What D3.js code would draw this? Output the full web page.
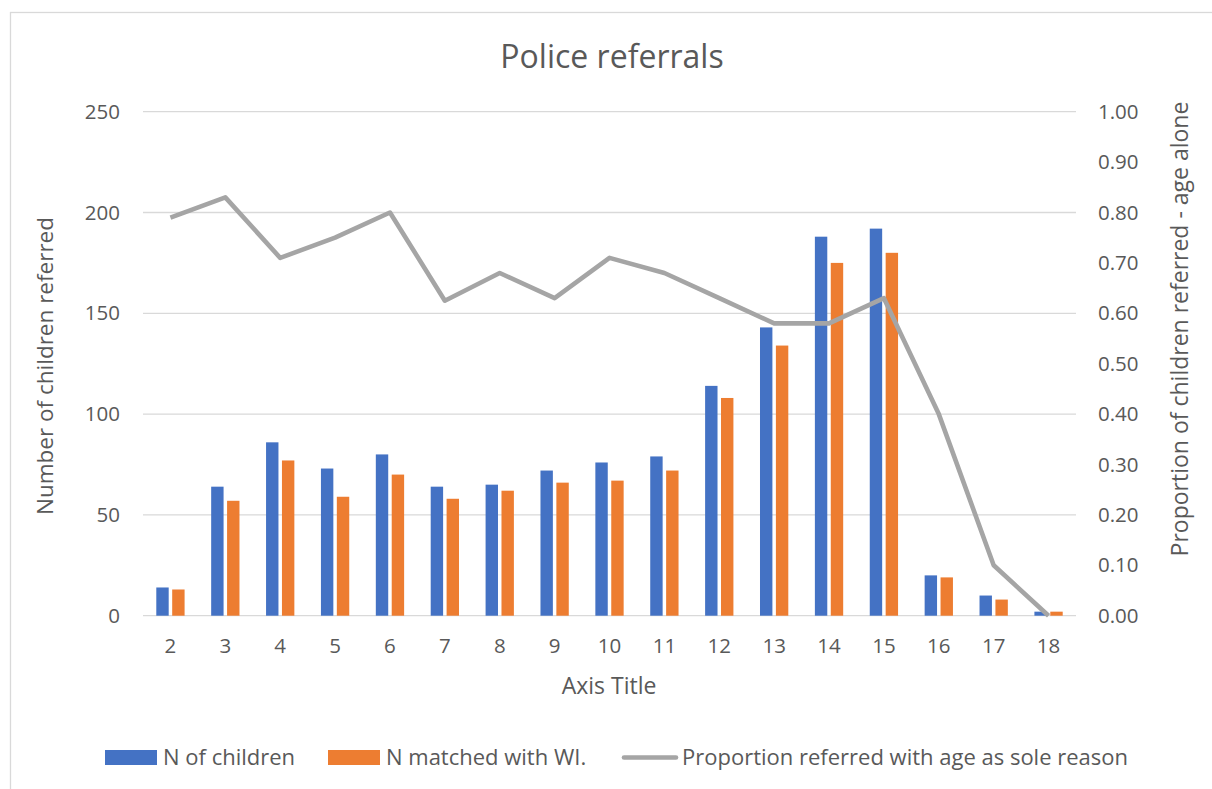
<!DOCTYPE html>
<html>
<head>
<meta charset="utf-8">
<script src="https://cdn.jsdelivr.net/npm/d3@7"></script>
<style>
  body { margin: 0; background: #fff; }
  text { font-family: "Open Sans", sans-serif; fill: #595959; }
</style>
</head>
<body>
<div id="chart"></div>
<script>
// data
const ages = ['2', '3', '4', '5', '6', '7', '8', '9', '10', '11', '12', '13', '14', '15', '16', '17', '18'];
const nChildren = [14, 64, 86, 73, 80, 64, 65, 72, 76, 79, 114, 143, 188, 192, 20, 10, 2];
const nMatched = [13, 57, 77, 59, 70, 58, 62, 66, 67, 72, 108, 134, 175, 180, 19, 8, 2];
const propAgeAlone = [0.79, 0.83, 0.71, 0.75, 0.80, 0.625, 0.68, 0.63, 0.71, 0.68, 0.63, 0.58, 0.58, 0.63, 0.40, 0.10, 0.00];
const leftTicks = [0, 50, 100, 150, 200, 250];
const rightTicks = [0, 0.1, 0.2, 0.3, 0.4, 0.5, 0.6, 0.7, 0.8, 0.9, 1.0];

const width = 1212, height = 789;
const plot = { left: 143, right: 1076, top: 111.7, bottom: 615.7 };
const colors = { n: '#4472C4', m: '#ED7D31', line: '#A5A5A5', grid: '#D9D9D9' };
const tickFont = 20.5, labelFont = 22.5;

const svg = d3.select('#chart').append('svg').attr('width', width).attr('height', height);

// chart border
svg.append('rect')
  .attr('x', 10.5).attr('y', 12.5)
  .attr('width', 1220).attr('height', 800)
  .attr('fill', 'none').attr('stroke', colors.grid).attr('stroke-width', 1.3);

// scales
const x = d3.scaleBand().domain(ages).range([plot.left, plot.right]);
const xInner = d3.scaleBand().domain(['n', 'm']).range([-14.15, 14.15]).paddingInner(0.22);
const yLeft = d3.scaleLinear().domain([0, 250]).range([plot.bottom, plot.top]);
const yRight = d3.scaleLinear().domain([0, 1]).range([plot.bottom, plot.top]);

// gridlines
svg.append('g')
  .selectAll('line').data(leftTicks).join('line')
  .attr('x1', plot.left).attr('x2', plot.right)
  .attr('y1', d => yLeft(d)).attr('y2', d => yLeft(d))
  .attr('stroke', colors.grid).attr('stroke-width', 1.3);

const styleTicks = g => {
  g.select('.domain').remove();
  g.selectAll('text')
    .attr('font-size', tickFont)
    .attr('fill', '#595959')
    .attr('font-family', '"Open Sans", sans-serif');
};

// left axis
svg.append('g')
  .attr('transform', `translate(${plot.left - 23},0)`)
  .call(d3.axisLeft(yLeft).tickValues(leftTicks).tickSize(0).tickPadding(0))
  .call(styleTicks);

// right axis
svg.append('g')
  .attr('transform', `translate(${plot.right + 22},0)`)
  .call(d3.axisRight(yRight).tickValues(rightTicks).tickFormat(d3.format('.2f')).tickSize(0).tickPadding(0))
  .call(styleTicks);

// bottom axis
svg.append('g')
  .attr('transform', `translate(0,${plot.bottom})`)
  .call(d3.axisBottom(x).tickSize(0).tickPadding(23))
  .call(styleTicks);

// bars
const bars = svg.append('g');
const series = [
  { key: 'n', values: nChildren },
  { key: 'm', values: nMatched }
];
series.forEach(s => {
  bars.append('g').selectAll('rect').data(s.values).join('rect')
    .attr('x', (d, i) => x(ages[i]) + x.bandwidth() / 2 + xInner(s.key))
    .attr('width', xInner.bandwidth())
    .attr('y', d => yLeft(d))
    .attr('height', d => yLeft(0) - yLeft(d))
    .attr('fill', colors[s.key]);
});

// line
const line = d3.line()
  .x((d, i) => x(ages[i]) + x.bandwidth() / 2)
  .y(d => yRight(d));
svg.append('path')
  .datum(propAgeAlone)
  .attr('d', line)
  .attr('fill', 'none')
  .attr('stroke', colors.line)
  .attr('stroke-width', 4.6)
  .attr('stroke-linejoin', 'round');

// title
svg.append('text')
  .attr('x', 612).attr('y', 68)
  .attr('text-anchor', 'middle')
  .attr('font-size', 32)
  .text('Police referrals');

// axis titles
svg.append('text')
  .attr('transform', 'translate(53,366) rotate(-90)')
  .attr('text-anchor', 'middle')
  .attr('font-size', labelFont)
  .text('Number of children referred');

svg.append('text')
  .attr('transform', 'translate(1188,329) rotate(-90)')
  .attr('text-anchor', 'middle')
  .attr('font-size', 23)
  .text('Proportion of children referred - age alone');

svg.append('text')
  .attr('x', 609).attr('y', 694)
  .attr('text-anchor', 'middle')
  .attr('font-size', 23)
  .text('Axis Title');

// legend
const legend = svg.append('g');
const legendItems = [
  { label: 'N of children', type: 'rect', color: colors.n, x: 105 },
  { label: 'N matched with WI.', type: 'rect', color: colors.m, x: 328 },
  { label: 'Proportion referred with age as sole reason', type: 'line', color: colors.line, x: 624 }
];
legendItems.forEach(item => {
  if (item.type === 'rect') {
    legend.append('rect')
      .attr('x', item.x).attr('y', 750)
      .attr('width', 52).attr('height', 15)
      .attr('fill', item.color);
  } else {
    legend.append('line')
      .attr('x1', item.x).attr('x2', item.x + 52)
      .attr('y1', 757.5).attr('y2', 757.5)
      .attr('stroke', item.color).attr('stroke-width', 4.6)
      .attr('stroke-linecap', 'round');
  }
  legend.append('text')
    .attr('x', item.x + 58).attr('y', 765)
    .attr('font-size', 22)
    .text(item.label);
});
</script>
</body>
</html>
